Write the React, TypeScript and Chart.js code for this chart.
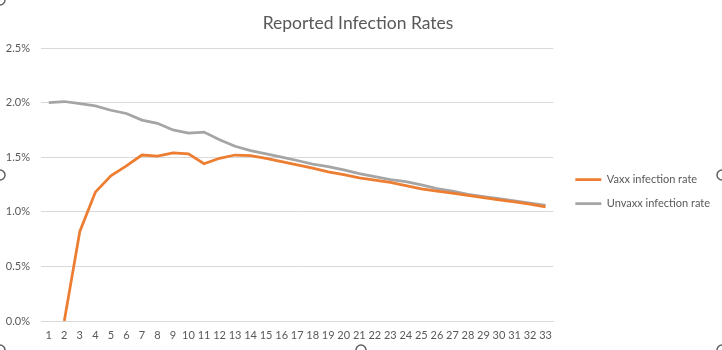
import React, { useEffect, useRef } from 'react';
import { Chart, registerables } from 'chart.js';

Chart.register(...registerables);

const categories = ['1','2','3','4','5','6','7','8','9','10','11','12','13','14','15','16','17','18','19','20','21','22','23','24','25','26','27','28','29','30','31','32','33'];

const vaxxRates: (number | null)[] = [null, 0.0, 0.82, 1.18, 1.33, 1.42, 1.52, 1.51, 1.54, 1.53, 1.44, 1.49, 1.52, 1.515, 1.49, 1.46, 1.43, 1.40, 1.365, 1.34, 1.31, 1.29, 1.27, 1.24, 1.21, 1.19, 1.17, 1.15, 1.13, 1.11, 1.09, 1.07, 1.045];

const unvaxxRates = [2.00, 2.01, 1.99, 1.97, 1.93, 1.90, 1.84, 1.81, 1.75, 1.72, 1.73, 1.66, 1.60, 1.56, 1.53, 1.50, 1.47, 1.436, 1.414, 1.384, 1.35, 1.323, 1.295, 1.277, 1.246, 1.213, 1.19, 1.16, 1.14, 1.12, 1.10, 1.08, 1.06];

const seriesNames = ['Vaxx infection rate', 'Unvaxx infection rate'];
const titleText = 'Reported Infection Rates';

const FONT = 'Lato, "Open Sans", sans-serif';
const TEXT = '#595959';

const handlesPlugin = {
  id: 'handles',
  afterDraw(chart: any) {
    const { ctx, width, height } = chart;
    const pts = [
      [0, 0],
      [0, height / 2],
      [width, height / 2],
      [0, height],
      [width / 2, height],
      [width, height],
    ];
    ctx.save();
    ctx.strokeStyle = '#606060';
    ctx.lineWidth = 1.5;
    for (const [x, y] of pts) {
      ctx.beginPath();
      ctx.arc(x, y, 5, 0, Math.PI * 2);
      ctx.stroke();
    }
    ctx.restore();
  },
};

const legendShiftPlugin = {
  id: 'legendShift',
  afterLayout(chart: any) {
    const lg = chart.legend;
    if (!lg) return;
    const dx = 9;
    const dy = 18;
    lg.left += dx;
    lg.right += dx;
    lg.top += dy;
    lg.bottom += dy;
  },
};

export default function App() {
  const ref = useRef<HTMLCanvasElement | null>(null);
  useEffect(() => {
    document.body.style.margin = '0';
    const canvas = ref.current;
    if (!canvas) return;
    const chart = new Chart(canvas, {
      type: 'line',
      data: {
        labels: categories,
        datasets: [
          {
            label: seriesNames[0],
            data: vaxxRates,
            borderColor: '#ED7D31',
            backgroundColor: '#ED7D31',
            borderWidth: 2.75,
            pointRadius: 0,
            pointHoverRadius: 0,
            tension: 0,
          },
          {
            label: seriesNames[1],
            data: unvaxxRates,
            borderColor: '#A5A5A5',
            backgroundColor: '#A5A5A5',
            borderWidth: 2.75,
            pointRadius: 0,
            pointHoverRadius: 0,
            tension: 0,
          },
        ],
      },
      plugins: [handlesPlugin, legendShiftPlugin],
      options: {
        responsive: false,
        animation: false,
        layout: { autoPadding: false, padding: { top: 4, left: 5, right: 11, bottom: 7 } },
        plugins: {
          title: {
            display: true,
            text: titleText,
            color: TEXT,
            font: { family: FONT, size: 17.5, weight: 'normal' },
            padding: { top: 9, bottom: 14 },
          },
          legend: {
            position: 'right',
            labels: {
              color: TEXT,
              font: { family: FONT, size: 11 },
              usePointStyle: true,
              pointStyle: 'line',
              pointStyleWidth: 26,
              boxHeight: 3,
              padding: 13,
            },
          },
          tooltip: { enabled: false },
        },
        scales: {
          x: {
            offset: true,
            grid: { display: false, drawTicks: false },
            border: { color: '#d9d9d9', width: 1 },
            ticks: { color: TEXT, font: { family: FONT, size: 11 }, autoSkip: false, maxRotation: 0, padding: 8 },
            afterFit: (s: any) => { s.height = 22; },
          },
          y: {
            min: 0,
            max: 2.5,
            grid: { color: '#d9d9d9', drawTicks: false },
            border: { display: false },
            ticks: {
              stepSize: 0.5,
              color: TEXT,
              font: { family: FONT, size: 11 },
              padding: 11,
              callback: (v: any) => Number(v).toFixed(1) + '%',
            },
            afterFit: (s: any) => { s.width = 36; },
          },
        },
      },
    });
    return () => chart.destroy();
  }, []);
  return <canvas ref={ref} width={722} height={350} style={{ display: 'block' }} />;
}
